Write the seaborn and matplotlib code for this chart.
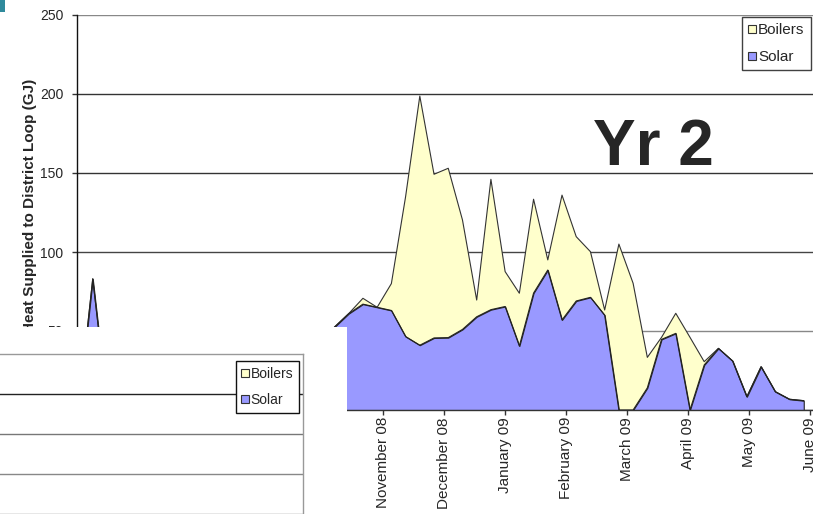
import pandas as pd
import matplotlib
matplotlib.use("Agg")
import matplotlib.pyplot as plt
from matplotlib.lines import Line2D
from matplotlib.patches import Rectangle
import seaborn as sns

# weekly readings, Yr 2 (weeks start 9 June 2008)
start_date = "2008-06-09"
n_weeks = 52

solar = [0, 83, 5, 35, 38, 42, 40, 45, 44, 41, 38, 43, 40, 36, 39, 42, 37, 40,
         52.5, 61, 67, 65, 63, 46.5, 41, 45.6, 45.8, 51, 59, 63.5, 65.5, 40.5,
         74, 88.6, 57, 69, 71.3, 60, 0, 0, 14, 44.7, 48.5, 0, 28.5, 39, 31, 8.4,
         27.4, 11.6, 6.8, 5.9]
boilers = [0] * 18 + [0, 0, 3.7, 0, 17, 88.5, 157.7, 103.6, 107.2, 69.3, 10.6,
                      82.5, 22.1, 33.4, 59.4, 6.4, 79, 40.7, 28.9, 3.3, 105,
                      80.2, 19.3, 1.3, 12.7, 46, 2.1, 0, 0, 0, 0, 0, 0, 0]

tick_step_days = 30
tick_labels = ["June 08", "July 08", "August 08", "September 08", "October 08",
               "November 08", "December 08", "January 09", "February 09",
               "March 09", "April 09", "May 09", "June 09"]
y_ticks = [0, 50, 100, 150, 200, 250]
series_names = ["Boilers", "Solar"]
series_colors = ["#FFFFCC", "#9999FF"]

sns.set_style("white")
plt.rcParams["font.family"] = ["Liberation Sans", "DejaVu Sans"]

weeks = pd.date_range(start_date, periods=n_weeks, freq="7D")
df = pd.DataFrame({"week": weeks, "Solar": solar, "Boilers": boilers})
df["Total"] = df["Solar"] + df["Boilers"]

W, H = 813, 514
fig = plt.figure(figsize=(W / 100, H / 100), dpi=100)

# main chart
ax = fig.add_axes([77 / W, 104 / H, 743 / W, 395 / H])
ax.fill_between(df["week"], df["Solar"], df["Total"], facecolor=series_colors[0],
                edgecolor="none", zorder=2)
ax.fill_between(df["week"], 0, df["Solar"], facecolor=series_colors[1],
                edgecolor="#222222", lw=0.8, zorder=2)
sns.lineplot(data=df, x="week", y="Total", color="#333333", lw=0.8, ax=ax, zorder=3)
sns.lineplot(data=df, x="week", y="Solar", color="#222222", lw=0.8, ax=ax, zorder=3)

t0 = pd.Timestamp(start_date)
ax.set_xlim(t0 - pd.Timedelta(hours=18), t0 + pd.Timedelta(days=365))
ax.set_ylim(0, 250)
tick_pos = [t0 + pd.Timedelta(days=tick_step_days * k) for k in range(len(tick_labels))]
ax.set_xticks(tick_pos)
ax.set_xticklabels(tick_labels, rotation=90, ha="center", va="top", fontsize=11)
ax.set_yticks(y_ticks)
ax.set_yticklabels([str(v) for v in y_ticks], fontsize=10)
ax.tick_params(axis="y", direction="out", length=3.3, width=1, color="#333333", pad=6.5, left=True)
ax.tick_params(axis="x", direction="out", length=3.6, width=1, color="#333333", pad=1.5, bottom=True)
ax.set_xlabel("")
ax.set_ylabel("Heat Supplied to District Loop (GJ)", fontsize=11, fontweight="bold")
ax.yaxis.set_label_coords((37 - 77) / 743, 0.518)

ax.set_axisbelow(True)
ax.yaxis.grid(True, lw=1)
grid_colors = ["#333333", "#888888", "#444444", "#333333", "#333333", "#888888"]
for gl, c in zip(ax.get_ygridlines(), grid_colors):
    gl.set_color(c)
ax.xaxis.grid(False)
for side in ["top", "right"]:
    ax.spines[side].set_visible(False)
ax.spines["left"].set_color("#111111")
ax.spines["bottom"].set_color("#333333")
ax.spines["left"].set_linewidth(1)
ax.spines["bottom"].set_linewidth(1)

def square_handles():
    return [Line2D([], [], ls="none", marker="s", markersize=5.5,
                   markerfacecolor=c, markeredgecolor="#333333", markeredgewidth=0.8)
            for c in series_colors]

leg = fig.legend(square_handles(), series_names, loc="upper left",
                 bbox_to_anchor=(742 / W, 1 - 17 / H), borderaxespad=0,
                 fontsize=11, frameon=True, fancybox=False, handlelength=0.5,
                 handletextpad=0.15, labelspacing=0.85, borderpad=0.4)
leg.get_frame().set_edgecolor("#111111")
leg.get_frame().set_linewidth(1)

fig.text(593 / W, 1 - 165 / H, "Yr 2", fontsize=46, fontweight="bold",
         ha="left", va="baseline")

# slide corner mark
fig.add_artist(Rectangle((0, 1 - 12 / H), 5 / W, 12 / H, transform=fig.transFigure,
                         facecolor="#2f8a9c", edgecolor="none", zorder=6))

# pasted piece of another chart over the bottom left
fig.add_artist(Rectangle((0, 0), 347 / W, 187 / H, transform=fig.transFigure,
                         facecolor="white", edgecolor="none", zorder=5))
inset = fig.add_axes([-50 / W, -40 / H, 353 / W, 200 / H], zorder=6)
inset.set_facecolor("white")
inset.set_ylim(0, 250)
inset.set_yticks([50, 100, 150, 200])
inset.set_xticks([])
inset.tick_params(axis="y", length=0, labelleft=False)
inset.yaxis.grid(True, lw=1)
for gl, c in zip(inset.get_ygridlines(), ["#888888", "#888888", "#777777", "#222222"]):
    gl.set_color(c)
for side in ["left", "bottom"]:
    inset.spines[side].set_visible(False)
for side in ["top", "right"]:
    inset.spines[side].set_color("#999999")
    inset.spines[side].set_linewidth(1)

leg2 = inset.legend(square_handles(), series_names, loc="upper left",
                    bbox_to_anchor=(236 / W, 1 - 361 / H), bbox_transform=fig.transFigure,
                    borderaxespad=0, fontsize=10, frameon=True, fancybox=False,
                    handlelength=0.5, handletextpad=0.15, labelspacing=0.9,
                    borderpad=0.4, framealpha=1)
leg2.get_frame().set_edgecolor("#111111")
leg2.get_frame().set_linewidth(1)

fig.savefig("out.png", dpi=100)
